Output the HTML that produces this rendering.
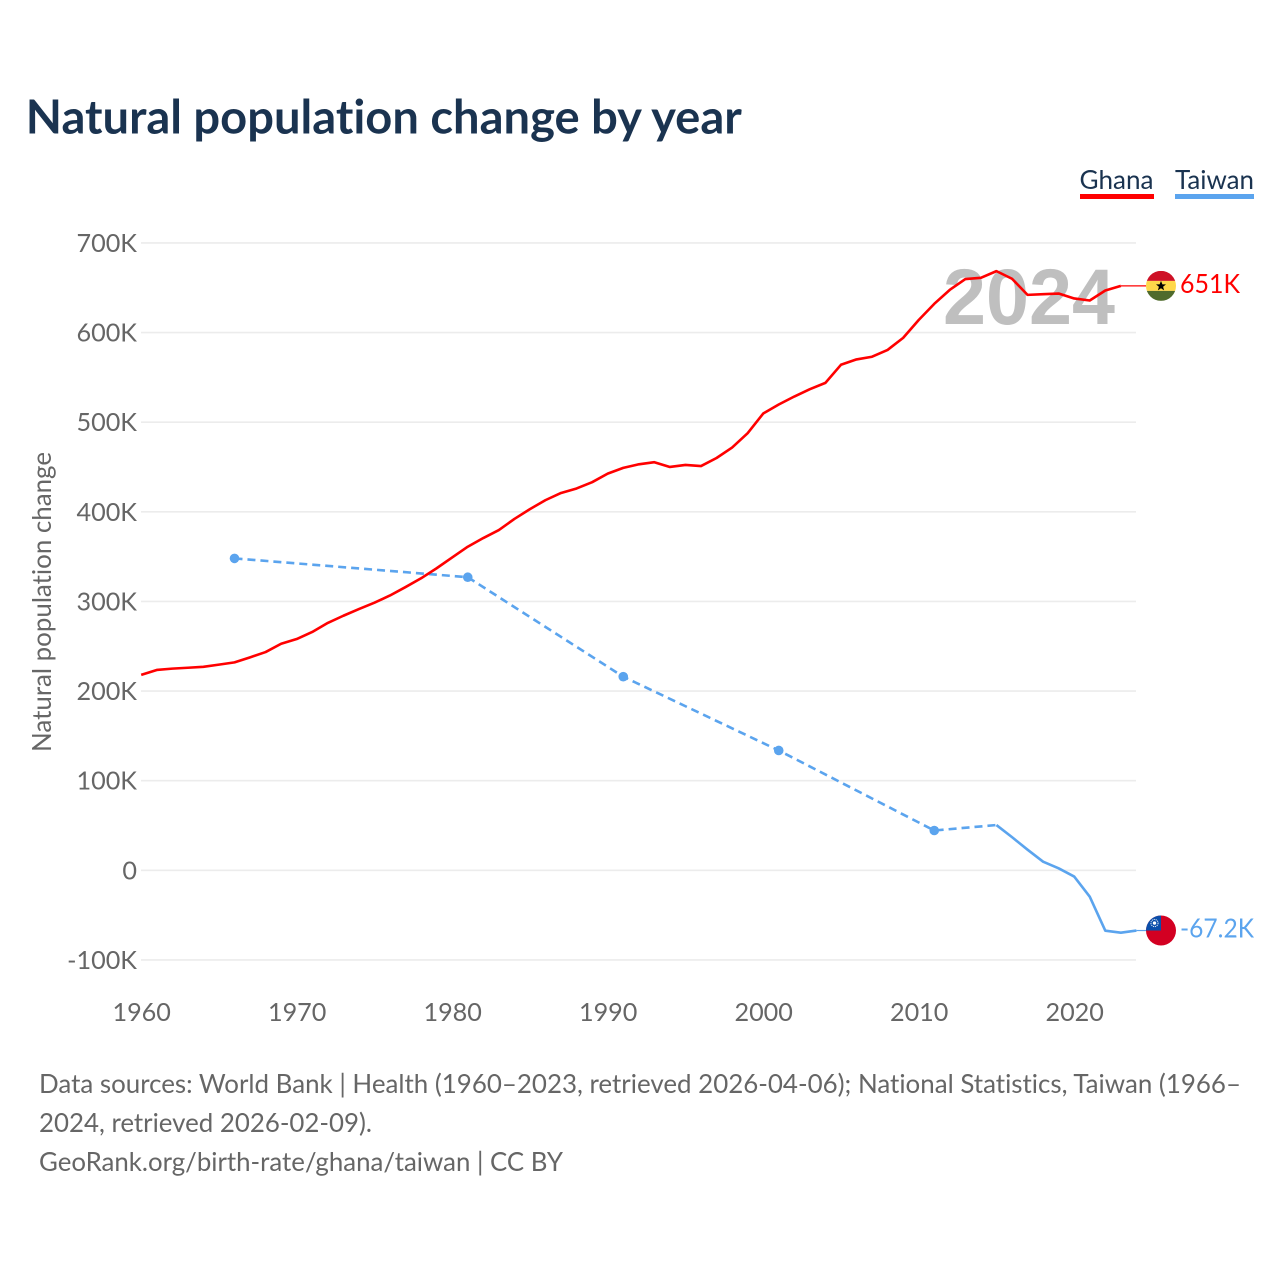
<!DOCTYPE html>
<html lang="en">
<head>
<meta charset="utf-8">
<title>Natural population change by year</title>
<style>
html,body{margin:0;padding:0;background:#fff;width:1280px;height:1280px;overflow:hidden}
svg{display:block}
text{font-family:"Lato","Carlito","Liberation Sans",sans-serif;font-variant-ligatures:none}
</style>
</head>
<body>
<svg id="chart" xmlns="http://www.w3.org/2000/svg" width="1280" height="1280" viewBox="0 0 1280 1280">
  <text x="25.8" y="133.6" font-size="47" font-weight="700" fill="#1a3350" textLength="716" lengthAdjust="spacingAndGlyphs">Natural population change by year</text>

  <g>
    <g>
      <text x="1079.5" y="189" font-size="26" fill="#1a3350" textLength="74" lengthAdjust="spacingAndGlyphs">Ghana</text>
      <rect x="1080" y="194" width="74" height="5" fill="#ff0000"/>
    </g>
    <g>
      <text x="1175" y="189" font-size="26" fill="#1a3350" textLength="79" lengthAdjust="spacingAndGlyphs">Taiwan</text>
      <rect x="1175" y="194" width="79" height="5" fill="#5ba4ee"/>
    </g>
  </g>

  <text transform="translate(51,752) rotate(-90)" font-size="26" fill="#666666" textLength="300" lengthAdjust="spacingAndGlyphs">Natural population change</text>

  <g id="grid"></g>
  <g id="yticks"></g>
  <g id="xticks"></g>

  <text x="943" y="324" font-size="79" font-weight="700" fill="#bfbfbf" textLength="172" lengthAdjust="spacingAndGlyphs" style="font-family:'Liberation Sans',sans-serif">2024</text>

  <g id="series"></g>

  <defs>
    <clipPath id="flag-clip-ghana"><circle cx="1161" cy="0" r="15"/></clipPath>
    <clipPath id="flag-clip-taiwan"><circle cx="1161" cy="0" r="15"/></clipPath>
  </defs>

  <g id="flag-ghana">
    <g clip-path="url(#flag-clip-ghana)">
      <rect x="1146" y="-15" width="30" height="10" fill="#ce1126"/>
      <rect x="1146" y="-5" width="30" height="10" fill="#ffd84a"/>
      <rect x="1146" y="5" width="30" height="10" fill="#4f6b2c"/>
    </g>
    <polygon fill="#000" points="1161,-5 1162.4,-1.5 1166,-1.5 1163.1,0.8 1164.1,4.5 1161,2.4 1157.9,4.5 1158.9,0.8 1156,-1.5 1159.6,-1.5"/>
  </g>
  <g id="flag-taiwan">
    <g clip-path="url(#flag-clip-taiwan)">
      <rect x="1146" y="-15" width="30" height="30" fill="#d30022"/>
      <rect x="1146" y="-15" width="15" height="15" fill="#0a4eaa"/>
      <circle cx="1154.5" cy="-7.5" r="3.6" fill="none" stroke="#dfe8f6" stroke-width="1" stroke-dasharray="1.2 0.8"/>
      <circle cx="1154.5" cy="-7.5" r="1.7" fill="#fff"/>
    </g>
  </g>

  <text id="label-ghana" x="1180" font-size="26" fill="#ff0000" textLength="60" lengthAdjust="spacingAndGlyphs">651K</text>
  <text id="label-taiwan" x="1180" font-size="26" fill="#5ba4ee" textLength="74" lengthAdjust="spacingAndGlyphs">-67.2K</text>

  <g font-size="26" fill="#666666">
    <text x="39" y="1093" textLength="1202" lengthAdjust="spacingAndGlyphs">Data sources: World Bank | Health (1960–2023, retrieved 2026-04-06); National Statistics, Taiwan (1966–</text>
    <text x="39" y="1132" textLength="333" lengthAdjust="spacingAndGlyphs">2024, retrieved 2026-02-09).</text>
    <text x="39" y="1171" textLength="524" lengthAdjust="spacingAndGlyphs">GeoRank.org/birth-rate/ghana/taiwan | CC BY</text>
  </g>
</svg>

<script>
const yTickValues = [700, 600, 500, 400, 300, 200, 100, 0, -100];
const yTickLabels = ["700K", "600K", "500K", "400K", "300K", "200K", "100K", "0", "-100K"];
const xTickYears = [1960, 1970, 1980, 1990, 2000, 2010, 2020];

const ghanaYears = [1960,1961,1962,1963,1964,1965,1966,1967,1968,1969,1970,1971,1972,1973,1974,1975,1976,1977,1978,1979,1980,1981,1982,1983,1984,1985,1986,1987,1988,1989,1990,1991,1992,1993,1994,1995,1996,1997,1998,1999,2000,2001,2002,2003,2004,2005,2006,2007,2008,2009,2010,2011,2012,2013,2014,2015,2016,2017,2018,2019,2020,2021,2022,2023];
const ghanaValues = [218,223.5,225,226,227,229.5,232,237.6,243.5,252.8,258,265.9,276,284,291.5,298.6,306.6,316,325.8,337,349,361,370.7,379.6,392,403,413,421,426,433,442.6,449,453,455.3,450,452.3,451,460,471.7,487.7,509.6,519.7,528.6,536.8,543.8,564,570,573,580.6,594,614,632,647.6,659.6,661,668.5,660,642,642.8,643.5,638,635.7,646.9,652];

const taiwanDashedYears = [1966,1981,1991,2001,2011,2015];
const taiwanDashedValues = [348,327,216,133.7,44.4,50.5];
const taiwanYears = [2015,2016,2017,2018,2019,2020,2021,2022,2023,2024];
const taiwanValues = [50.5,37,23,9.6,2.2,-7,-29.4,-67.4,-69.6,-67.2];
const ghanaFlagValue = 652;
const taiwanFlagValue = -67.2;

const NS = "http://www.w3.org/2000/svg";
const xScale = year => 141.2 + (year - 1960) * 15.55;
const yScale = value => 870.3 - value * 0.8963;
const gridLeft = 141, gridRight = 1136, flagX = 1146;

function make(parent, tag, attrs, text) {
  const el = document.createElementNS(NS, tag);
  for (const k in attrs) el.setAttribute(k, attrs[k]);
  if (text !== undefined) el.textContent = text;
  parent.appendChild(el);
  return el;
}
const pathFrom = (xs, ys) => xs.map((x, i) => (i ? "L" : "M") + xScale(x).toFixed(2) + " " + yScale(ys[i]).toFixed(2)).join(" ");

const grid = document.getElementById("grid");
const yticks = document.getElementById("yticks");
const xticks = document.getElementById("xticks");
const series = document.getElementById("series");

yTickValues.forEach((v, i) => {
  const line = make(grid, "line", {x1: gridLeft, x2: gridRight, y1: yScale(v), y2: yScale(v), stroke: "#ececec", "stroke-width": 1.6});
  
  
  const t = make(yticks, "text", {x: 137, y: yScale(v) + 9, "text-anchor": "end", "font-size": 25.2, fill: "#666666"}, yTickLabels[i]);
  
  
});

xTickYears.forEach(y => {
  const t = make(xticks, "text", {x: xScale(y) + 0.5, y: 1021, "text-anchor": "middle", "font-size": 25.2, fill: "#666666"}, y);
  
  
});

const taiwanDash = make(series, "path", {d: pathFrom(taiwanDashedYears, taiwanDashedValues), fill: "none", stroke: "#5ba4ee", "stroke-width": 2.6, "stroke-dasharray": "8 5"});



taiwanDashedYears.slice(0, 5).forEach((y, i) => {
  const c = make(series, "circle", {cx: xScale(y), cy: yScale(taiwanDashedValues[i]), r: 4.8, fill: "#5ba4ee"});
  
  
});

const taiwanLine = make(series, "path", {d: pathFrom(taiwanYears, taiwanValues), fill: "none", stroke: "#5ba4ee", "stroke-width": 2.6, "stroke-linejoin": "round"});



const ghanaLine = make(series, "path", {d: pathFrom(ghanaYears, ghanaValues), fill: "none", stroke: "#ff0000", "stroke-width": 2.6, "stroke-linejoin": "round"});



const gLastX = xScale(ghanaYears[ghanaYears.length - 1]);
const gLastY = yScale(ghanaValues[ghanaValues.length - 1]);
const ghanaConnector = make(series, "line", {x1: gLastX, y1: gLastY, x2: flagX, y2: yScale(ghanaFlagValue), stroke: "#ff0000", "stroke-width": 1.2});



const tLastX = xScale(taiwanYears[taiwanYears.length - 1]);
const tLastY = yScale(taiwanValues[taiwanValues.length - 1]);
const taiwanConnector = make(series, "line", {x1: tLastX, y1: tLastY, x2: flagX, y2: yScale(taiwanFlagValue), stroke: "#5ba4ee", "stroke-width": 1.2});



const gy = yScale(ghanaFlagValue), ty = yScale(taiwanFlagValue);
document.getElementById("flag-ghana").setAttribute("transform", "translate(0," + gy + ")");
document.getElementById("flag-taiwan").setAttribute("transform", "translate(0," + ty + ")");
document.getElementById("label-ghana").setAttribute("y", gy + 7);
document.getElementById("label-taiwan").setAttribute("y", ty + 7);
</script>
</body>
</html>
